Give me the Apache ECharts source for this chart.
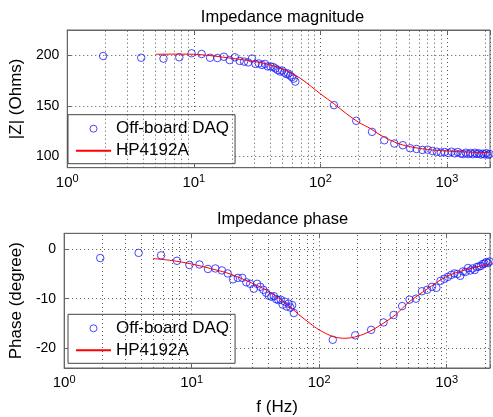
<!DOCTYPE html>
<html>
<head>
<meta charset="utf-8">
<script src="https://cdn.jsdelivr.net/npm/echarts@6/dist/echarts.min.js"></script>
<style>
html,body{margin:0;padding:0;background:#fff;}
#chart{width:493px;height:417px;}
</style>
</head>
<body>
<div id="chart"></div>
<script>
// ---- data ----
const freqDAQ = [1.92, 3.84, 5.76, 7.68, 9.6, 11.52, 13.44, 15.36, 17.28, 19.2,
  21.12, 23.04, 24.96, 26.88, 28.8, 30.72, 32.64, 34.56, 36.48, 38.4,
  40.32, 42.24, 44.16, 46.08, 48, 49.92, 51.84, 53.76, 55.68, 57.6, 59.52, 61.44, 63.36,
  128, 192, 256, 320, 384, 448, 512, 576, 640, 704, 768, 832, 896, 960, 1024, 1088,
  1152, 1216, 1280, 1344, 1408, 1472, 1536, 1600, 1664, 1728, 1792, 1856, 1920, 1984,
  2048, 2112, 2176];
const magDAQ = [199.3, 197.6, 196.7, 198, 202, 201.3, 197.6, 197.3, 198.6, 195.3,
  198, 194.5, 193.8, 193, 196.8, 191.5, 192, 190.5, 191.5, 189,
  189, 188.5, 187, 185.5, 184, 185, 183, 181.5, 182, 180, 178.5, 177, 174,
  150.8, 135.3, 124.4, 116.1, 112.9, 111.2, 108.2, 107.5, 106.5, 106.8, 105.5, 104.8,
  104, 104.5, 103.5, 104.8, 103.2, 104.5, 103, 102.5, 103.8, 102.5, 103.5, 102.3,
  103.8, 102.6, 103.2, 102, 102.8, 102.2, 103.4, 101.8, 102.5];
const phaseDAQ = [-1.8, -0.75, -1.25, -2.35, -3.2, -3.1, -4.0, -3.9, -4.3, -4.9,
  -6.1, -5.8, -5.8, -6.7, -7.0, -8.0, -7.0, -7.6, -8.2, -8.8,
  -9.4, -9.6, -9.5, -10.1, -10.3, -10.2, -11.2, -10.6, -11.6, -11.0, -11.8, -11.3, -12.9,
  -18.3, -17.4, -16.3, -14.8, -13.3, -11.5, -10.2, -10.0, -8.5, -8.2, -7.6, -7.8,
  -6.4, -6.0, -5.6, -5.2, -4.9, -5.0, -5.4, -4.5, -4.6, -3.8, -4.3, -3.9, -4.2,
  -3.6, -3.5, -3.4, -3.0, -2.9, -2.6, -2.8, -2.5];
const freqHP = [5, 7, 10, 14, 20, 30, 40, 50, 60, 70, 85, 100, 130, 160, 200, 250, 300, 400, 500, 700, 1000, 1400, 2000, 2190];
const magHP = [201, 201.2, 201, 199.5, 197, 194, 190.5, 186.5, 182, 177, 169, 162, 151.5, 142.5, 134, 127.5, 121, 113.5, 110, 107, 105.5, 104.5, 104, 104];
const phaseHP = [-1.9, -2.3, -3.0, -3.9, -5.0, -6.9, -8.5, -10.2, -11.8, -13.3, -15.0, -16.3, -17.7, -18.0, -17.6, -16.6, -15.4, -13.2, -10.8, -8.1, -5.5, -4.2, -3.2, -2.9];
const minorGrid = [2, 3, 4, 5, 6, 7, 8, 9, 20, 30, 40, 50, 60, 70, 80, 90, 200, 300, 400, 500, 600, 700, 800, 900, 2000];
const magTicks = [100, 150, 200];
const phaseTicks = [-20, -10, 0];
const seriesNames = ['Off-board DAQ', 'HP4192A'];
const titles = ['Impedance magnitude', 'Impedance phase'];
const yNames = ['|Z| (Ohms)', 'Phase (degree)'];
const xName = 'f (Hz)';

// ---- chart ----
const FONT = '"Liberation Sans", Arial, Helvetica, sans-serif';
const chart = echarts.init(document.getElementById('chart'), null, {renderer: 'canvas'});
const zip = (a, b) => a.map((v, i) => [v, b[i]]);
const dotted = {color: '#555', width: 1, type: [1, 3]};
const boxColor = '#666';
const daqStyle = {color: 'rgba(0,0,255,0)', borderColor: '#1a1aff', borderWidth: 1};

function xAxisCfg(gridIndex, withName, pos) {
  const main = pos === 'bottom';
  return {
    type: 'log', logBase: 10, gridIndex: gridIndex, min: 1, max: 2190, position: pos,
    name: withName ? xName : '', nameLocation: 'middle', nameGap: 31,
    nameTextStyle: {fontFamily: FONT, fontSize: 17, color: '#000'},
    axisLine: {show: true, onZero: false, lineStyle: {color: boxColor}},
    axisTick: {show: true, inside: true, length: 4, lineStyle: {color: boxColor}},
    splitLine: {show: main, lineStyle: dotted},
    axisLabel: {
      show: main,
      color: '#000', fontFamily: FONT, margin: 6,
      formatter: function (v) {
        const l = Math.log10(v), e = Math.round(l);
        return Math.abs(l - e) < 1e-6 ? '{b|10}{s|' + e + '}' : '';
      },
      rich: {
        b: {fontFamily: FONT, fontSize: 15, lineHeight: 18, color: '#000'},
        s: {fontFamily: FONT, fontSize: 11, lineHeight: 11, verticalAlign: 'top', color: '#000'}
      }
    }
  };
}
function yAxisCfg(gridIndex, min, max, ticks, name, gap) {
  return {
    type: 'value', gridIndex: gridIndex, min: min, max: max,
    name: name, nameLocation: 'middle', nameGap: gap,
    nameTextStyle: {fontFamily: FONT, fontSize: 17, color: '#000'},
    axisLine: {show: true, onZero: false, lineStyle: {color: boxColor}},
    axisTick: {show: true, inside: true, length: 4, customValues: ticks, lineStyle: {color: boxColor}},
    splitLine: {show: true, lineStyle: dotted},
    axisLabel: {color: '#000', fontFamily: FONT, fontSize: 14, margin: 8, customValues: ticks}
  };
}
function minorMark() {
  return {
    silent: true, symbol: ['none', 'none'], animation: false,
    label: {show: false}, lineStyle: dotted,
    emphasis: {disabled: true},
    data: minorGrid.map(v => ({xAxis: v}))
  };
}
function legendCfg(top) {
  return {
    left: 68, top: top, orient: 'vertical', show: true,
    backgroundColor: '#fff', borderColor: '#444', borderWidth: 1,
    padding: [4, 6, 3, 7], itemGap: 2, itemWidth: 35, itemHeight: 7,
    textStyle: {fontFamily: FONT, fontSize: 17, color: '#000', lineHeight: 20},
    data: [
      {name: seriesNames[0], itemStyle: {color: 'rgba(0,0,255,0)', borderColor: '#1a1aff', borderWidth: 1}},
      {name: seriesNames[1], itemStyle: {opacity: 0}}
    ]
  };
}

const option = {
  animation: false,
  backgroundColor: '#fff',
  title: [
    {text: titles[0], left: 277.5, top: 4, textAlign: 'center',
     textStyle: {fontFamily: FONT, fontSize: 16.5, fontWeight: 'normal', color: '#000'}},
    {text: titles[1], left: 277.5, top: 206, textAlign: 'center',
     textStyle: {fontFamily: FONT, fontSize: 16.5, fontWeight: 'normal', color: '#000'}}
  ],
  grid: [
    {left: 62.5, top: 30, right: 0, height: 137.7, show: true, borderColor: boxColor, borderWidth: 1, backgroundColor: '#fff'},
    {left: 62.5, top: 233.3, right: 0, height: 135, show: true, borderColor: boxColor, borderWidth: 1, backgroundColor: '#fff'}
  ],
  legend: [legendCfg(114.7), legendCfg(314.3)],
  xAxis: [xAxisCfg(0, false, 'bottom'), xAxisCfg(1, true, 'bottom'), xAxisCfg(0, false, 'top'), xAxisCfg(1, false, 'top')],
  yAxis: [
    yAxisCfg(0, 89, 225, magTicks, yNames[0], 39),
    yAxisCfg(1, -24, 3.2, phaseTicks, yNames[1], 36)
  ],
  series: [
    {name: seriesNames[0], type: 'scatter', xAxisIndex: 0, yAxisIndex: 0, data: zip(freqDAQ, magDAQ),
     symbol: 'circle', symbolSize: 7.5, itemStyle: daqStyle, z: 2},
    {name: seriesNames[1], type: 'line', xAxisIndex: 0, yAxisIndex: 0, data: zip(freqHP, magHP),
     smooth: 0.3, symbol: 'none', lineStyle: {color: '#ff0000', width: 1}, itemStyle: {color: '#ff0000'},
     markLine: minorMark(), z: 3},
    {name: seriesNames[0], type: 'scatter', xAxisIndex: 1, yAxisIndex: 1, data: zip(freqDAQ, phaseDAQ),
     symbol: 'circle', symbolSize: 7.5, itemStyle: daqStyle, z: 2},
    {name: seriesNames[1], type: 'line', xAxisIndex: 1, yAxisIndex: 1, data: zip(freqHP, phaseHP),
     smooth: 0.3, symbol: 'none', lineStyle: {color: '#ff0000', width: 1}, itemStyle: {color: '#ff0000'},
     markLine: minorMark(), z: 3}
  ]
};
chart.setOption(option);
</script>
</body>
</html>
